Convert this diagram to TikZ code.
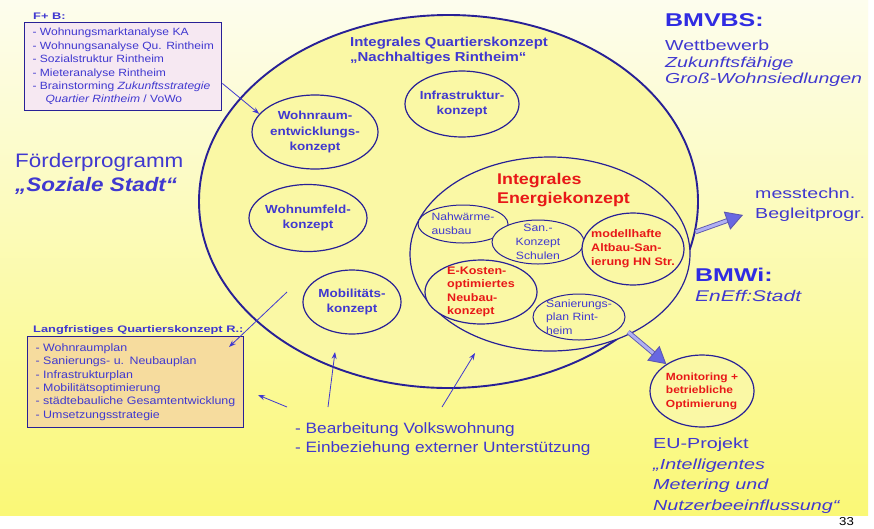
\documentclass[tikz,border=0pt]{standalone}
\usepackage{fontspec}
\setmainfont{Liberation Sans}[FakeStretch=1.15]
\newfontfamily\widefont{Liberation Sans}[FakeStretch=1.35]
\usetikzlibrary{shapes.geometric,arrows.meta}

\definecolor{txtblue}{RGB}{64,56,208}
\definecolor{ttlblue}{RGB}{48,44,226}
\definecolor{lineblue}{RGB}{40,32,150}
\definecolor{kred}{RGB}{232,24,24}
\definecolor{ellfill}{RGB}{250,248,165}
\definecolor{bgtop}{RGB}{253,253,238}
\definecolor{bgbot}{RGB}{250,248,118}
\definecolor{fbfill}{RGB}{246,232,242}
\definecolor{lqfill}{RGB}{246,220,158}
\definecolor{arrfill}{RGB}{176,176,242}
\definecolor{tipfill}{RGB}{104,104,226}

\newcommand{\fsz}[2]{\fontsize{#1}{#2}\selectfont}

\begin{document}
\begin{tikzpicture}[x=1pt, y=-1pt,
  ell/.style={ellipse, draw=lineblue, line width=1.2pt, fill=ellfill, inner sep=0pt},
  elltext/.style={font=\bfseries\fsz{11.7}{15.5}, text=txtblue, align=center},
  innertext/.style={font=\fsz{10.6}{14}, text=txtblue, align=left},
  redtext/.style={font=\bfseries\fsz{10.9}{14}, text=kred, align=left},
  boxtext/.style={font=\fsz{10.8}{13.4}, text=txtblue, align=left},
  boxtitle/.style={font=\widefont\bfseries\fsz{9.5}{12}, text=txtblue, anchor=north west, inner sep=0pt},
  plain/.style={anchor=north west, inner sep=0pt, align=left, text=txtblue},
  arr/.style={draw=txtblue, line width=0.8pt, -{Stealth[length=7pt, width=5pt]}},
  dblarr/.style={draw=lineblue!75, double=arrfill, double distance=3pt, line width=0.9pt,
    -{Triangle[length=17pt, width=19pt, fill=tipfill]}}]
  \useasboundingbox (0,0) rectangle (874,528);
  \clip (0,0) rectangle (874,528);
  \fill[white] (0,0) rectangle (874,528);
  \shade[top color=bgtop, bottom color=bgbot] (0,0) rectangle (868,515);

  \node[ell, line width=1.9pt, minimum width=499, minimum height=373] (iqk) at (448.5,201.5) {};
  \node[plain, font=\bfseries\fsz{13}{15}] (iqktitle) at (350,37)
    {Integrales Quartierskonzept\\„Nachhaltiges Rintheim“};

  \node[ell, minimum width=126, minimum height=74, label={[elltext]center:{Wohnraum-\\entwicklungs-\\konzept}}] (wre) at (315,132) {};
  \node[ell, minimum width=114, minimum height=66, label={[elltext]center:{Infrastruktur-\\konzept}}] (infra) at (462,104) {};
  \node[ell, minimum width=118, minimum height=67, label={[elltext]center:{Wohnumfeld-\\konzept}}] (wuf) at (308,218) {};
  \node[ell, minimum width=98, minimum height=64, label={[elltext]center:{Mobilitäts-\\konzept}}] (mob) at (352,302) {};

  \node[ell, minimum width=280, minimum height=194] (iek) at (550,254) {};
  \node[plain, font=\bfseries\fsz{15.5}{19}, text=kred] (iektitle) at (497,173) {Integrales\\Energiekonzept};
  \node[ell, line width=1pt, minimum width=90, minimum height=38, label={[innertext]center:{Nahwärme-\\ausbau}}] (nwa) at (463,224) {};
  \node[ell, line width=1pt, minimum width=92, minimum height=44, label={[innertext, align=center]center:{San.-\\Konzept\\Schulen}}] (sks) at (538,242) {};
  \node[ell, minimum width=102, minimum height=72, label={[redtext]center:{modellhafte\\Altbau-San-\\ierung HN Str.}}] (alt) at (633,249) {};
  \node[ell, minimum width=112, minimum height=64, label={[redtext, font=\bfseries\fsz{10.9}{13.5}]center:{E-Kosten-\\optimiertes\\Neubau-\\konzept}}] (ekn) at (481,292) {};
  \node[ell, line width=1pt, minimum width=92, minimum height=46, label={[innertext, font=\fsz{10.6}{13.5}]center:{Sanierungs-\\plan Rint-\\heim}}] (spr) at (579,317) {};

  \node[ell, minimum width=104, minimum height=72, label={[redtext, font=\bfseries\fsz{10.4}{13.5}]center:{Monitoring +\\betriebliche\\Optimierung}}] (mon) at (702,391) {};

  \node[boxtitle] (fbtitle) at (33,13) {F+ B:};
  \node[boxtext, font=\fsz{10.5}{13.4}, draw=lineblue, line width=1pt, fill=fbfill, anchor=north west,
    inner xsep=8, minimum width=196, minimum height=88] (fb) at (24,22)
    {- Wohnungsmarktanalyse KA\\- Wohnungsanalyse Qu. Rintheim\\- Sozialstruktur Rintheim\\- Mieteranalyse Rintheim\\- Brainstorming \textit{Zukunftsstrategie}\\\hspace*{13pt}\textit{Quartier Rintheim} / VoWo};

  \node[boxtitle] (lqtitle) at (33,325) {Langfristiges Quartierskonzept R.:};
  \node[boxtext, draw=lineblue, line width=1pt, fill=lqfill, anchor=north west, text width=200,
    inner xsep=8, minimum height=91] (lq) at (27,336)
    {- Wohnraumplan\\- Sanierungs- u. Neubauplan\\- Infrastrukturplan\\- Mobilitätsoptimierung\\- städtebauliche Gesamtentwicklung\\- Umsetzungsstrategie};

  \node[plain, font=\fsz{19.5}{24}] (fp) at (15,153) {Förderprogramm\\\textbf{\textit{„Soziale Stadt“}}};

  \node[plain, font=\widefont\bfseries\fsz{18.5}{20}, text=ttlblue] (bmvbs) at (665,13) {BMVBS:};
  \node[plain, font=\widefont\fsz{14.5}{16.5}] (wett) at (665,40) {Wettbewerb\\\textit{Zukunftsfähige}\\\textit{Groß-Wohnsiedlungen}};
  \node[plain, font=\widefont\fsz{14.5}{20}] (mtb) at (755,188) {messtechn.\\Begleitprogr.};
  \node[plain, font=\widefont\bfseries\fsz{18.5}{20}, text=ttlblue] (bmwi) at (695,268) {BMWi:};
  \node[plain, font=\widefont\itshape\fsz{15.5}{20}] (eneff) at (695,290) {EnEff:Stadt};
  \node[plain, font=\widefont\fsz{14.6}{20.5}] (eu) at (653,438) {EU-Projekt\\\textit{„Intelligentes}\\\textit{Metering und}\\\textit{Nutzerbeeinflussung“}};

  \node[plain, font=\fsz{15}{19}] (vowo) at (295,422) {- Bearbeitung Volkswohnung\\- Einbeziehung externer Unterstützung};
  \node[plain, font=\fsz{11.5}{12}, text=black] (pnum) at (839,517) {33};

  \coordinate (t0) at (287,292);
  \coordinate (t1) at (287,407);
  \coordinate (h1) at (258,395);
  \coordinate (t2) at (328,407);
  \coordinate (h2) at (335,352);
  \coordinate (t3) at (442,407);
  \coordinate (h3) at (475,353);
  \draw[arr] ([yshift=-17pt]fb.east) -- (wre.162);
  \draw[arr] (t0) -- ([xshift=-15pt,yshift=-11pt]lq.north east);
  \draw[arr] (t1) -- (h1);
  \draw[arr] (t2) -- (h2);
  \draw[arr] (t3) -- (h3);
  \draw[dblarr] (iqk.-7) -- ([xshift=-12pt,yshift=-10pt]mtb.west);
  \draw[dblarr] (iqk.-36) -- (mon.143);
\end{tikzpicture}
\end{document}
